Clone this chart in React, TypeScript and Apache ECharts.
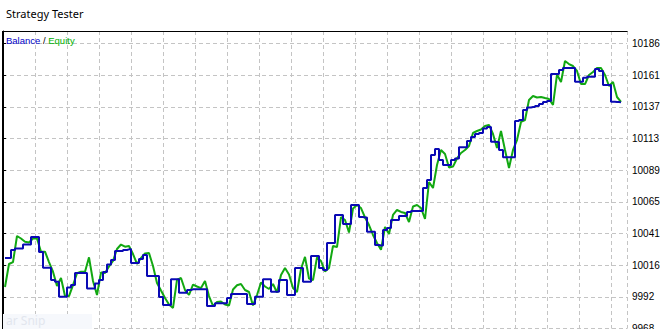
import React, { useEffect, useRef } from "react";
import * as echarts from "echarts";

// Y-axis tick labels, bottom to top (one grid step each)
const TICKS = ["9968", "9992", "10016", "10041", "10065", "10089", "10113", "10137", "10161", "10186"];
const Y_BASE = 9968;
const Y_STEP = 218 / 9;

// Balance (blue, step line) sampled along the test period
const BALANCE = [
  10022.0, 10022.0, 10028.1, 10029.2, 10029.2, 10032.3, 10032.3, 10038.0, 10038.0, 10026.6,
  10014.6, 10014.6, 10005.2, 10003.9, 9992.4, 9992.4, 9999.4, 10001.3, 10010.5, 10010.5,
  10010.5, 9998.7, 9998.7, 10002.5, 10005.2, 10011.3, 10017.0, 10020.5, 10027.3, 10027.3,
  10028.1, 10028.6, 10018.2, 10018.2, 10021.2, 10024.3, 10008.2, 10008.2, 10008.2, 9992.2,
  9986.0, 9986.0, 10005.7, 10005.7, 9995.4, 9995.4, 9997.5, 9998.0, 9998.0, 9998.0,
  9998.0, 9985.3, 9985.3, 9987.3, 9987.3, 9987.3, 9991.4, 9994.5, 9994.5, 9994.5,
  9994.5, 9986.8, 9986.8, 9992.4, 9992.4, 10005.7, 10005.7, 9996.2, 9996.2, 10005.2,
  10005.2, 9993.7, 9993.7, 10014.3, 10014.3, 10003.9, 10003.9, 10023.5, 10023.5, 10014.3,
  10012.8, 10033.5, 10033.5, 10054.9, 10054.9, 10048.0, 10048.0, 10062.5, 10062.5, 10053.3,
  10053.0, 10042.1, 10042.1, 10031.9, 10031.5, 10043.4, 10044.9, 10051.0, 10051.0, 10054.1,
  10054.1, 10057.2, 10057.9, 10057.9, 10057.9, 10075.5, 10081.6, 10100.7, 10105.3, 10096.9,
  10093.1, 10093.1, 10096.9, 10098.1, 10106.6, 10106.6, 10111.4, 10114.5, 10116.8, 10117.6,
  10121.0, 10122.2, 10110.9, 10110.7, 10104.6, 10099.0, 10099.0, 10099.0, 10126.7, 10127.5,
  10135.1, 10137.1, 10137.4, 10138.2, 10139.7, 10141.3, 10142.0, 10162.7, 10162.7, 10165.7,
  10167.3, 10167.3, 10167.3, 10156.8, 10156.8, 10159.8, 10160.6, 10160.6, 10166.5, 10165.0,
  10154.3, 10154.3, 10141.5, 10141.3, 10141.0,
];

// Equity (green)
const EQUITY = [
  9999.8, 10017.4, 10018.9, 10038.8, 10036.9, 10034.4, 10033.8, 10036.9, 10036.9, 10026.8,
  10026.8, 10018.9, 10011.5, 10000.6, 10006.7, 9992.9, 9992.9, 10001.3, 10010.3, 10011.5,
  10011.5, 10022.5, 10004.4, 9993.7, 10010.9, 10010.5, 10015.5, 10019.7, 10028.9, 10032.3,
  10030.6, 10031.2, 10025.0, 10017.4, 10022.0, 10025.4, 10025.8, 10015.9, 10002.9, 9997.1,
  9991.4, 9986.4, 9983.8, 10005.2, 10006.7, 9997.5, 9993.7, 10001.7, 10000.2, 9999.0,
  10004.4, 9992.9, 9985.3, 9988.3, 9988.7, 9986.4, 9985.7, 9997.9, 10001.1, 10002.1,
  9997.5, 9996.0, 9985.7, 9993.7, 10003.3, 10000.2, 9998.3, 10002.1, 9995.6, 10009.0,
  10014.3, 10009.4, 9999.0, 9996.0, 10013.6, 10022.8, 10006.3, 10005.2, 10022.4, 10019.7,
  10011.7, 10014.3, 10031.2, 10030.4, 10053.3, 10051.0, 10041.5, 10059.8, 10062.5, 10060.2,
  10053.0, 10047.2, 10039.6, 10033.5, 10028.3, 10045.7, 10040.3, 10054.9, 10058.7, 10057.2,
  10056.4, 10049.5, 10061.4, 10062.5, 10060.2, 10051.8, 10080.1, 10075.5, 10093.1, 10104.6,
  10101.5, 10091.2, 10091.9, 10098.1, 10102.3, 10104.6, 10107.6, 10117.6, 10119.1, 10120.2,
  10122.9, 10123.7, 10116.8, 10106.1, 10119.1, 10104.6, 10090.8, 10104.6, 10112.2, 10126.0,
  10127.5, 10142.8, 10145.9, 10144.7, 10145.1, 10144.3, 10143.6, 10139.0, 10162.3, 10156.6,
  10172.6, 10170.3, 10168.8, 10165.0, 10155.0, 10155.0, 10161.9, 10164.2, 10167.3, 10167.3,
  10161.9, 10153.5, 10156.6, 10145.1, 10141.3,
];

const SLOTS = 156; // time slots across the plot
const CATEGORIES = Array.from({ length: SLOTS }, (_, i) => String(i));
const V_GRID_MAX = 19.5; // vertical grid divisions across the plot

const toAxis = (v: number) => (v - Y_BASE) / Y_STEP;

export default function App() {
  const ref = useRef<HTMLDivElement>(null);
  useEffect(() => {
    if (!ref.current) return;
    const chart = echarts.init(ref.current, undefined, { renderer: "svg" });
    const gridColor = "#c4c4c4";
    chart.setOption({
      animation: false,
      backgroundColor: "#ffffff",
      grid: {
        left: 3,
        top: 31,
        width: 624,
        height: 297.6,
        containLabel: false,
        outerBoundsMode: "none",
      },
      xAxis: [
        {
          type: "category",
          data: CATEGORIES,
          boundaryGap: true,
          show: false,
        },
        {
          type: "value",
          min: 0,
          max: V_GRID_MAX,
          interval: 1,
          position: "top",
          axisLine: { show: false },
          axisTick: { show: false },
          axisLabel: { show: false },
          splitLine: { show: true, lineStyle: { color: gridColor, width: 1, type: [4, 3] } },
        },
      ],
      yAxis: {
        type: "value",
        position: "right",
        min: 0,
        max: 9.395,
        interval: 1,
        axisLine: { show: true, lineStyle: { color: "#000", width: 1 } },
        axisTick: { show: true, length: 3, lineStyle: { color: "#000" } },
        axisLabel: {
          margin: 5,
          color: "#000",
          fontSize: 10,
          fontFamily: "Liberation Sans",
          formatter: (v: number) => {
            const k = Math.round(v);
            return Math.abs(v - k) < 1e-6 && TICKS[k] ? TICKS[k] : "";
          },
        },
        splitLine: { show: true, lineStyle: { color: gridColor, width: 1, type: [4, 3] } },
      },
      series: [
        {
          name: "Equity",
          type: "line",
          xAxisIndex: 0,
          data: EQUITY.map(toAxis),
          symbol: "none",
          lineStyle: { color: "#12a812", width: 2 },
          z: 3,
        },
        {
          name: "Balance",
          type: "line",
          xAxisIndex: 0,
          step: "middle",
          data: BALANCE.map(toAxis),
          symbol: "none",
          lineStyle: { color: "#0a0ab4", width: 2 },
          z: 4,
        },
      ],
      graphic: [
        {
          type: "text",
          x: 6,
          y: 13,
          style: {
            text: "Strategy Tester",
            fontSize: 11,
            fontFamily: "Noto Sans",
            fill: "#000",
            verticalAlign: "middle",
          },
        },
        {
          type: "line",
          z: 10,
          shape: { x1: 2.5, y1: 31.5, x2: 627.5, y2: 31.5 },
          style: { stroke: "#000", lineWidth: 1 },
        },
        {
          type: "line",
          z: 10,
          shape: { x1: 2.5, y1: 31, x2: 2.5, y2: 329 },
          style: { stroke: "#000", lineWidth: 1 },
        },
        {
          type: "text",
          x: 6,
          y: 40,
          z: 10,
          style: {
            text: "{b|Balance} {s|/} {e|Equity}",
            fontSize: 9.5,
            fontFamily: "Liberation Sans",
            verticalAlign: "middle",
            rich: {
              b: { fill: "#0000c8", fontSize: 9.5, fontFamily: "Liberation Sans" },
              s: { fill: "#000", fontSize: 9.5, fontFamily: "Liberation Sans" },
              e: { fill: "#00b000", fontSize: 9.5, fontFamily: "Liberation Sans" },
            },
          },
        },
        {
          type: "rect",
          z: 9,
          shape: { x: 3, y: 314, width: 89, height: 15 },
          style: { fill: "#f6f8fc" },
        },
        {
          type: "text",
          x: 6,
          y: 314,
          z: 10,
          style: {
            text: "ar Snip",
            fontSize: 12,
            fontFamily: "Noto Sans",
            fill: "#e2e6ee",
            verticalAlign: "top",
          },
        },
      ],
    });
    return () => chart.dispose();
  }, []);
  return (
    <div
      ref={ref}
      style={{ position: "fixed", left: 0, top: 0, width: 661, height: 329, background: "#fff" }}
    />
  );
}
